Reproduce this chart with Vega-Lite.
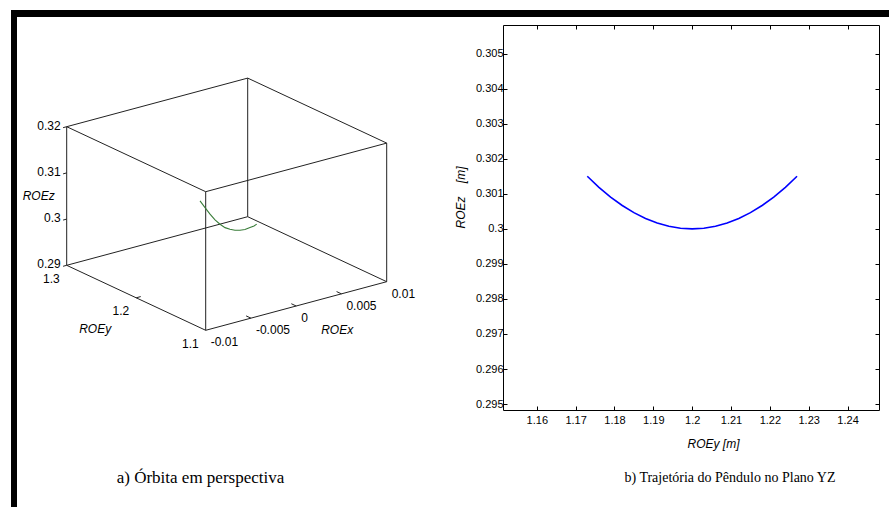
{
  "$schema": "https://vega.github.io/schema/vega-lite/v6.json",
  "background": "white",
  "padding": {"left": 11, "top": 10, "right": 0, "bottom": 0},
  "config": {
    "view": {"stroke": null},
    "font": "Liberation Sans",
    "axis": {"labelFont": "Liberation Sans", "labelFontSize": 11, "labelColor": "black", "domainColor": "black", "tickColor": "black", "grid": false, "titleFont": "Liberation Sans", "titleFontSize": 12, "titleFontWeight": "normal", "titleColor": "black"},
    "text": {"font": "Liberation Sans", "fontSize": 12, "color": "black"}
  },
  "datasets": {
    "frame3d": [
      {"part": "edge", "X1": -0.01, "Y1": 1.1, "Z1": 0.29, "X2": -0.01, "Y2": 1.3, "Z2": 0.29},
      {"part": "edge", "X1": -0.01, "Y1": 1.3, "Z1": 0.29, "X2": 0.01, "Y2": 1.3, "Z2": 0.29},
      {"part": "edge", "X1": 0.01, "Y1": 1.3, "Z1": 0.29, "X2": 0.01, "Y2": 1.1, "Z2": 0.29},
      {"part": "edge", "X1": 0.01, "Y1": 1.1, "Z1": 0.29, "X2": -0.01, "Y2": 1.1, "Z2": 0.29},
      {"part": "edge", "X1": -0.01, "Y1": 1.1, "Z1": 0.32, "X2": -0.01, "Y2": 1.3, "Z2": 0.32},
      {"part": "edge", "X1": -0.01, "Y1": 1.3, "Z1": 0.32, "X2": 0.01, "Y2": 1.3, "Z2": 0.32},
      {"part": "edge", "X1": 0.01, "Y1": 1.3, "Z1": 0.32, "X2": 0.01, "Y2": 1.1, "Z2": 0.32},
      {"part": "edge", "X1": 0.01, "Y1": 1.1, "Z1": 0.32, "X2": -0.01, "Y2": 1.1, "Z2": 0.32},
      {"part": "edge", "X1": -0.01, "Y1": 1.1, "Z1": 0.29, "X2": -0.01, "Y2": 1.1, "Z2": 0.32},
      {"part": "edge", "X1": -0.01, "Y1": 1.3, "Z1": 0.29, "X2": -0.01, "Y2": 1.3, "Z2": 0.32},
      {"part": "edge", "X1": 0.01, "Y1": 1.3, "Z1": 0.29, "X2": 0.01, "Y2": 1.3, "Z2": 0.32},
      {"part": "edge", "X1": 0.01, "Y1": 1.1, "Z1": 0.29, "X2": 0.01, "Y2": 1.1, "Z2": 0.32},
      {"part": "tick", "X1": -0.01, "Y1": 1.3, "Z1": 0.29, "X2": -0.0104, "Y2": 1.3, "Z2": 0.29},
      {"part": "tick", "X1": -0.01, "Y1": 1.3, "Z1": 0.3, "X2": -0.0104, "Y2": 1.3, "Z2": 0.3},
      {"part": "tick", "X1": -0.01, "Y1": 1.3, "Z1": 0.31, "X2": -0.0104, "Y2": 1.3, "Z2": 0.31},
      {"part": "tick", "X1": -0.01, "Y1": 1.3, "Z1": 0.32, "X2": -0.0104, "Y2": 1.3, "Z2": 0.32},
      {"part": "tick", "X1": -0.01, "Y1": 1.2, "Z1": 0.29, "X2": -0.0095, "Y2": 1.2, "Z2": 0.29},
      {"part": "tick", "X1": -0.005, "Y1": 1.1, "Z1": 0.29, "X2": -0.005, "Y2": 1.107, "Z2": 0.29},
      {"part": "tick", "X1": 0, "Y1": 1.1, "Z1": 0.29, "X2": 0, "Y2": 1.107, "Z2": 0.29},
      {"part": "tick", "X1": 0.005, "Y1": 1.1, "Z1": 0.29, "X2": 0.005, "Y2": 1.107, "Z2": 0.29}
    ],
    "orbit3d": [
      {"i": 1, "X": 0, "Y": 1.2384, "Z": 0.30302},
      {"i": 2, "X": 0, "Y": 1.2312, "Z": 0.30207},
      {"i": 3, "X": 0, "Y": 1.224, "Z": 0.30115},
      {"i": 4, "X": 0, "Y": 1.2168, "Z": 0.30042},
      {"i": 5, "X": 0, "Y": 1.2096, "Z": 0.29999},
      {"i": 6, "X": 0, "Y": 1.2024, "Z": 0.29976},
      {"i": 7, "X": 0, "Y": 1.1953, "Z": 0.29992},
      {"i": 8, "X": 0, "Y": 1.1881, "Z": 0.30021},
      {"i": 9, "X": 0, "Y": 1.1809, "Z": 0.30072},
      {"i": 10, "X": 0, "Y": 1.1737, "Z": 0.30136},
      {"i": 11, "X": 0, "Y": 1.1665, "Z": 0.3023},
      {"i": 12, "X": 0, "Y": 1.1607, "Z": 0.30307},
      {"i": 13, "X": 0, "Y": 1.1568, "Z": 0.30372}
    ],
    "zticks": [
      {"X": -0.01, "Y": 1.3, "Z": 0.29, "label": "0.29"},
      {"X": -0.01, "Y": 1.3, "Z": 0.3, "label": "0.3"},
      {"X": -0.01, "Y": 1.3, "Z": 0.31, "label": "0.31"},
      {"X": -0.01, "Y": 1.3, "Z": 0.32, "label": "0.32"}
    ],
    "yticks": [
      {"X": -0.01, "Y": 1.1, "Z": 0.29, "label": "1.1"},
      {"X": -0.01, "Y": 1.2, "Z": 0.29, "label": "1.2"},
      {"X": -0.01, "Y": 1.3, "Z": 0.29, "label": "1.3"}
    ],
    "xticks": [
      {"X": -0.01, "Y": 1.1, "Z": 0.29, "label": "-0.01"},
      {"X": -0.005, "Y": 1.1, "Z": 0.29, "label": "-0.005"},
      {"X": 0, "Y": 1.1, "Z": 0.29, "label": "0"},
      {"X": 0.005, "Y": 1.1, "Z": 0.29, "label": "0.005"},
      {"X": 0.01, "Y": 1.1, "Z": 0.29, "label": "0.01"}
    ],
    "zname": [{"X": -0.01, "Y": 1.3, "Z": 0.305, "label": "ROEz"}],
    "yname": [{"X": -0.01, "Y": 1.2, "Z": 0.29, "label": "ROEy"}],
    "xname": [{"X": 0, "Y": 1.1, "Z": 0.29, "label": "ROEx"}],
    "yz": [
      {"ROEy": 1.173, "ROEz": 0.301502},
      {"ROEy": 1.176, "ROEz": 0.301187},
      {"ROEy": 1.179, "ROEz": 0.300908},
      {"ROEy": 1.182, "ROEz": 0.300667},
      {"ROEy": 1.185, "ROEz": 0.300464},
      {"ROEy": 1.188, "ROEz": 0.300297},
      {"ROEy": 1.191, "ROEz": 0.300167},
      {"ROEy": 1.194, "ROEz": 0.300074},
      {"ROEy": 1.197, "ROEz": 0.300019},
      {"ROEy": 1.2, "ROEz": 0.3},
      {"ROEy": 1.203, "ROEz": 0.300019},
      {"ROEy": 1.206, "ROEz": 0.300074},
      {"ROEy": 1.209, "ROEz": 0.300167},
      {"ROEy": 1.212, "ROEz": 0.300297},
      {"ROEy": 1.215, "ROEz": 0.300464},
      {"ROEy": 1.218, "ROEz": 0.300667},
      {"ROEy": 1.221, "ROEz": 0.300908},
      {"ROEy": 1.224, "ROEz": 0.301187},
      {"ROEy": 1.227, "ROEz": 0.301502}
    ]
  },
  "spacing": 0,
  "hconcat": [
    {"width": 6, "height": 497, "data": {"values": []}, "mark": "point", "view": {"fill": "black", "stroke": null}},
    {
      "spacing": 7,
      "vconcat": [
        {"width": 872, "height": 7, "data": {"values": []}, "mark": "point", "view": {"fill": "black", "stroke": null}},
        {
          "spacing": 0,
          "hconcat": [
            {
              "width": 437,
              "height": 385,
              "view": {"stroke": null},
              "title": {"text": "a) Órbita em perspectiva", "orient": "bottom", "anchor": "middle", "frame": "group", "dx": -35, "offset": 60, "font": "Liberation Serif", "fontSize": 17, "fontWeight": "normal", "color": "black"},
              "layer": [
                {
                  "data": {"name": "frame3d"},
                  "transform": [
                    {"calculate": "(datum.X1+0.01)*9050-(datum.Y1-1.1)*695", "as": "u1"},
                    {"calculate": "(datum.X1+0.01)*2430+(datum.Y1-1.1)*325+(datum.Z1-0.29)*4620", "as": "v1"},
                    {"calculate": "(datum.X2+0.01)*9050-(datum.Y2-1.1)*695", "as": "u2"},
                    {"calculate": "(datum.X2+0.01)*2430+(datum.Y2-1.1)*325+(datum.Z2-0.29)*4620", "as": "v2"}
                  ],
                  "mark": {"type": "rule", "color": "#222222", "strokeWidth": 1},
                  "encoding": {
                    "x": {"field": "u1", "type": "quantitative", "scale": {"domain": [-188.7, 248.3], "nice": false, "zero": false}, "axis": null},
                    "y": {"field": "v1", "type": "quantitative", "scale": {"domain": [-79.7, 305.3], "nice": false, "zero": false}, "axis": null},
                    "x2": {"field": "u2"},
                    "y2": {"field": "v2"}
                  }
                },
                {
                  "data": {"name": "orbit3d"},
                  "transform": [
                    {"calculate": "(datum.X+0.01)*9050-(datum.Y-1.1)*695", "as": "u"},
                    {"calculate": "(datum.X+0.01)*2430+(datum.Y-1.1)*325+(datum.Z-0.29)*4620", "as": "v"}
                  ],
                  "mark": {"type": "line", "color": "#3a7d3a", "strokeWidth": 1.1},
                  "encoding": {
                    "x": {"field": "u", "type": "quantitative", "scale": {"domain": [-188.7, 248.3], "nice": false, "zero": false}, "axis": null},
                    "y": {"field": "v", "type": "quantitative", "scale": {"domain": [-79.7, 305.3], "nice": false, "zero": false}, "axis": null},
                    "order": {"field": "i"}
                  }
                },
                {
                  "data": {"name": "zticks"},
                  "transform": [
                    {"calculate": "(datum.X+0.01)*9050-(datum.Y-1.1)*695", "as": "u"},
                    {"calculate": "(datum.X+0.01)*2430+(datum.Y-1.1)*325+(datum.Z-0.29)*4620", "as": "v"}
                  ],
                  "mark": {"type": "text", "align": "right", "baseline": "middle", "dx": -6, "dy": -1, "fontSize": 12},
                  "encoding": {
                    "x": {"field": "u", "type": "quantitative", "scale": {"domain": [-188.7, 248.3], "nice": false, "zero": false}, "axis": null},
                    "y": {"field": "v", "type": "quantitative", "scale": {"domain": [-79.7, 305.3], "nice": false, "zero": false}, "axis": null},
                    "text": {"field": "label"}
                  }
                },
                {
                  "data": {"name": "yticks"},
                  "transform": [
                    {"calculate": "(datum.X+0.01)*9050-(datum.Y-1.1)*695", "as": "u"},
                    {"calculate": "(datum.X+0.01)*2430+(datum.Y-1.1)*325+(datum.Z-0.29)*4620", "as": "v"}
                  ],
                  "mark": {"type": "text", "align": "right", "baseline": "middle", "dx": -7, "dy": 13.5, "fontSize": 12},
                  "encoding": {
                    "x": {"field": "u", "type": "quantitative", "scale": {"domain": [-188.7, 248.3], "nice": false, "zero": false}, "axis": null},
                    "y": {"field": "v", "type": "quantitative", "scale": {"domain": [-79.7, 305.3], "nice": false, "zero": false}, "axis": null},
                    "text": {"field": "label"}
                  }
                },
                {
                  "data": {"name": "xticks"},
                  "transform": [
                    {"calculate": "(datum.X+0.01)*9050-(datum.Y-1.1)*695", "as": "u"},
                    {"calculate": "(datum.X+0.01)*2430+(datum.Y-1.1)*325+(datum.Z-0.29)*4620", "as": "v"}
                  ],
                  "mark": {"type": "text", "align": "left", "baseline": "middle", "dx": 5, "dy": 12, "fontSize": 12},
                  "encoding": {
                    "x": {"field": "u", "type": "quantitative", "scale": {"domain": [-188.7, 248.3], "nice": false, "zero": false}, "axis": null},
                    "y": {"field": "v", "type": "quantitative", "scale": {"domain": [-79.7, 305.3], "nice": false, "zero": false}, "axis": null},
                    "text": {"field": "label"}
                  }
                },
                {
                  "data": {"name": "zname"},
                  "transform": [
                    {"calculate": "(datum.X+0.01)*9050-(datum.Y-1.1)*695", "as": "u"},
                    {"calculate": "(datum.X+0.01)*2430+(datum.Y-1.1)*325+(datum.Z-0.29)*4620", "as": "v"}
                  ],
                  "mark": {"type": "text", "align": "right", "baseline": "middle", "dx": -12, "fontSize": 12, "fontStyle": "italic"},
                  "encoding": {
                    "x": {"field": "u", "type": "quantitative", "scale": {"domain": [-188.7, 248.3], "nice": false, "zero": false}, "axis": null},
                    "y": {"field": "v", "type": "quantitative", "scale": {"domain": [-79.7, 305.3], "nice": false, "zero": false}, "axis": null},
                    "text": {"field": "label"}
                  }
                },
                {
                  "data": {"name": "yname"},
                  "transform": [
                    {"calculate": "(datum.X+0.01)*9050-(datum.Y-1.1)*695", "as": "u"},
                    {"calculate": "(datum.X+0.01)*2430+(datum.Y-1.1)*325+(datum.Z-0.29)*4620", "as": "v"}
                  ],
                  "mark": {"type": "text", "align": "right", "baseline": "middle", "dx": -25, "dy": 31, "fontSize": 12, "fontStyle": "italic"},
                  "encoding": {
                    "x": {"field": "u", "type": "quantitative", "scale": {"domain": [-188.7, 248.3], "nice": false, "zero": false}, "axis": null},
                    "y": {"field": "v", "type": "quantitative", "scale": {"domain": [-79.7, 305.3], "nice": false, "zero": false}, "axis": null},
                    "text": {"field": "label"}
                  }
                },
                {
                  "data": {"name": "xname"},
                  "transform": [
                    {"calculate": "(datum.X+0.01)*9050-(datum.Y-1.1)*695", "as": "u"},
                    {"calculate": "(datum.X+0.01)*2430+(datum.Y-1.1)*325+(datum.Z-0.29)*4620", "as": "v"}
                  ],
                  "mark": {"type": "text", "align": "left", "baseline": "middle", "dx": 25, "dy": 24, "fontSize": 12, "fontStyle": "italic"},
                  "encoding": {
                    "x": {"field": "u", "type": "quantitative", "scale": {"domain": [-188.7, 248.3], "nice": false, "zero": false}, "axis": null},
                    "y": {"field": "v", "type": "quantitative", "scale": {"domain": [-79.7, 305.3], "nice": false, "zero": false}, "axis": null},
                    "text": {"field": "label"}
                  }
                }
              ]
            },
            {
              "width": 376,
              "height": 385,
              "view": {"stroke": null},
              "title": {"text": "b) Trajetória do Pêndulo no Plano YZ", "orient": "bottom", "anchor": "middle", "frame": "group", "dx": 39, "offset": 22, "font": "Liberation Serif", "fontSize": 14, "fontWeight": "normal", "color": "black"},
              "data": {"name": "yz"},
              "layer": [
                {
                  "mark": {"type": "line", "color": "#0000ff", "strokeWidth": 1.6},
                  "encoding": {
                    "x": {"field": "ROEy", "type": "quantitative", "scale": {"domain": [1.1513, 1.2481], "nice": false, "zero": false},
                      "axis": {"orient": "bottom", "values": [1.16, 1.17, 1.18, 1.19, 1.2, 1.21, 1.22, 1.23, 1.24], "format": "~g", "tickSize": -4, "labelPadding": 8, "title": "ROEy [m]", "titleFontStyle": "italic", "titleX": 210, "titleY": 33, "titleBaseline": "middle", "titleAlign": "center"}},
                    "y": {"field": "ROEz", "type": "quantitative", "scale": {"domain": [0.29483, 0.30582], "nice": false, "zero": false},
                      "axis": {"orient": "left", "values": [0.295, 0.296, 0.297, 0.298, 0.299, 0.3, 0.301, 0.302, 0.303, 0.304, 0.305], "format": "~g", "tickSize": -4, "labelPadding": 4, "title": "ROEz\u00a0\u00a0\u00a0 [m]", "titleFontStyle": "italic", "titleX": -43, "titleY": 172, "titleBaseline": "middle", "titleAlign": "center", "titleAngle": 270}}
                  }
                },
                {
                  "mark": {"type": "line", "opacity": 0},
                  "encoding": {
                    "x": {"field": "ROEy", "type": "quantitative", "scale": {"domain": [1.1513, 1.2481], "nice": false, "zero": false},
                      "axis": {"orient": "top", "values": [1.16, 1.17, 1.18, 1.19, 1.2, 1.21, 1.22, 1.23, 1.24], "labels": false, "tickSize": -4, "title": null}},
                    "y": {"field": "ROEz", "type": "quantitative", "scale": {"domain": [0.29483, 0.30582], "nice": false, "zero": false},
                      "axis": {"orient": "right", "values": [0.295, 0.296, 0.297, 0.298, 0.299, 0.3, 0.301, 0.302, 0.303, 0.304, 0.305], "labels": false, "tickSize": -4, "title": null}}
                  }
                }
              ],
              "resolve": {"axis": {"x": "independent", "y": "independent"}}
            }
          ]
        }
      ]
    }
  ]
}
